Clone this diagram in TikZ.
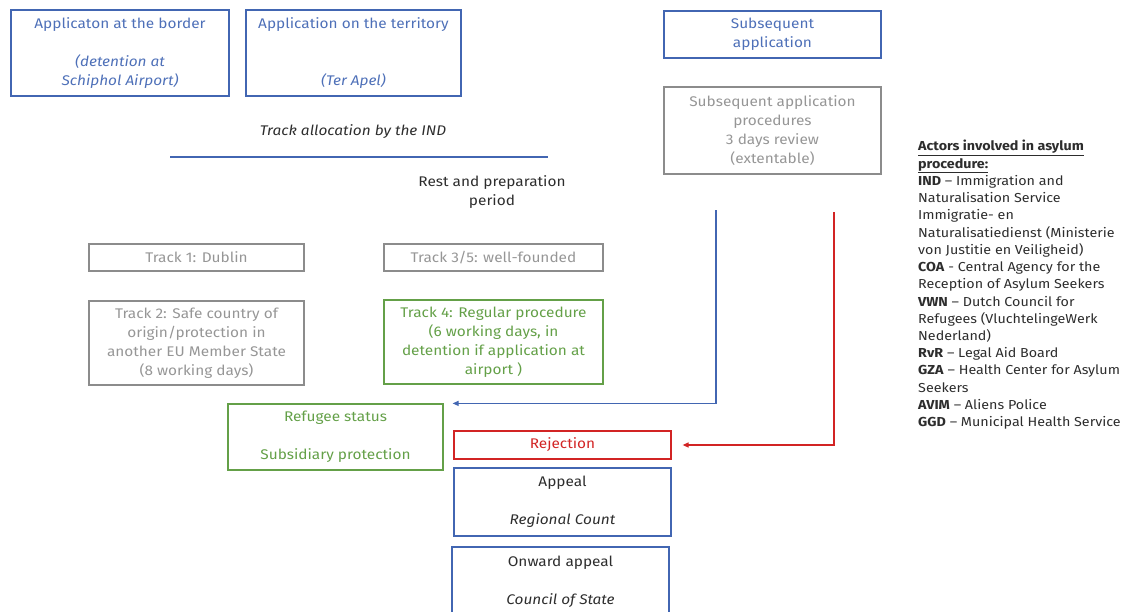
\documentclass[tikz,border=0pt]{standalone}
\usepackage{fontspec}
\setmainfont{Fira Sans}[FakeStretch=1.1]
\usetikzlibrary{arrows.meta}
\definecolor{bblue}{RGB}{66,102,178}
\definecolor{tblue}{RGB}{78,112,184}
\definecolor{ggrey}{RGB}{140,140,140}
\definecolor{tgrey}{RGB}{150,150,150}
\definecolor{ggreen}{RGB}{100,160,72}
\definecolor{rred}{RGB}{210,36,36}
\definecolor{tdark}{RGB}{45,45,45}
\begin{document}
\begin{tikzpicture}[x=1pt,y=-1pt,
  box/.style={draw, line width=1.2pt, align=center, inner sep=0pt,
    font=\fontsize{14}{19}\selectfont},
  bluebox/.style={box, draw=bblue, text=tblue},
  greybox/.style={box, draw=ggrey, text=tgrey},
  greenbox/.style={box, draw=ggreen, text=ggreen},
  redbox/.style={box, draw=rred, text=rred},
  courtbox/.style={box, draw=bblue, text=tdark},
  plain/.style={align=center, inner sep=0pt, text=tdark,
    font=\fontsize{14}{19}\selectfont},
  flow/.style={line width=1.2pt, -{Triangle[length=6pt,width=5pt]}},
]
\useasboundingbox (0,0) rectangle (1136,611);
\clip (0,0) rectangle (1136,611);

% entry points
\node (border) [bluebox, minimum width=218, minimum height=86] at (120,53)
  {Applicaton at the border\\ \\ \textit{(detention at}\\ \textit{Schiphol Airport)}};
\node (terr) [bluebox, minimum width=215, minimum height=86] at (353.5,53)
  {Application on the territory\\ \\ \\ \textit{(Ter Apel)}};
\node (subs) [bluebox, minimum width=217, minimum height=47] at (772.5,34.5)
  {Subsequent\\ application};
\node (subproc) [greybox, minimum width=217, minimum height=87] at (772.5,130.5)
  {Subsequent application\\ procedures\\ 3 days review\\ (extentable)};

% track allocation
\node (alloc) [plain] at (353,132) {\textit{Track allocation by the IND}};
\coordinate (allocL) at (170,157);
\coordinate (allocR) at (548,157);
\draw[bblue, line width=1.2pt] (allocL) -- (allocR);
\node (rest) [plain] at (492,192) {Rest and preparation\\ period};

% tracks
\node (t1) [greybox, minimum width=215, minimum height=27] at (196.5,257.5) {Track 1: Dublin};
\node (t35) [greybox, minimum width=219, minimum height=27] at (493.5,257.5) {Track 3/5: well-founded};
\node (t2) [greybox, minimum width=215, minimum height=84] at (196.5,343)
  {Track 2: Safe country of\\ origin/protection in\\ another EU Member State\\ (8 working days)};
\node (t4) [greenbox, minimum width=219, minimum height=84] at (493.5,342)
  {Track 4: Regular procedure\\ (6 working days, in\\ detention if application at\\ airport )};

% outcomes
\node (status) [greenbox, minimum width=215, minimum height=66] at (335.5,437)
  {Refugee status\\ \\ Subsidiary protection};
\node (rej) [redbox, minimum width=217, minimum height=28] at (562.5,445) {Rejection};
\node (appeal) [courtbox, minimum width=217, minimum height=68] at (562.5,502)
  {Appeal\\ \\ \textit{Regional Count}};
\node (onward) [courtbox, minimum width=217, minimum height=70] at (560.5,582)
  {Onward appeal\\ \\ \textit{Council of State}};

% subsequent application outcomes
\coordinate (posStart) at (716,210);
\coordinate (negStart) at (834,212);
\draw[flow, bblue] (posStart) |- ([xshift=9pt]status.north east);
\draw[flow, rred] (negStart) |- ([xshift=11pt]rej.east);

% actors
\node (actors) [anchor=north west, align=left, inner sep=0pt, text=tdark,
  font=\fontsize{13}{17.25}\selectfont] at (918,140) {%
  \textbf{\underline{Actors involved in asylum}}\\
  \textbf{\underline{procedure:}}\\
  \textbf{IND} -- Immigration and\\
  Naturalisation Service\\
  Immigratie- en\\
  Naturalisatiedienst (Ministerie\\
  von Justitie en Veiligheid)\\
  \textbf{COA} - Central Agency for the\\
  Reception of Asylum Seekers\\
  \textbf{VWN} -- Dutch Council for\\
  Refugees (VluchtelingeWerk\\
  Nederland)\\
  \textbf{RvR} -- Legal Aid Board\\
  \textbf{GZA} -- Health Center for Asylum\\
  Seekers\\
  \textbf{AVIM} -- Aliens Police\\
  \textbf{GGD} -- Municipal Health Service};
\end{tikzpicture}
\end{document}
